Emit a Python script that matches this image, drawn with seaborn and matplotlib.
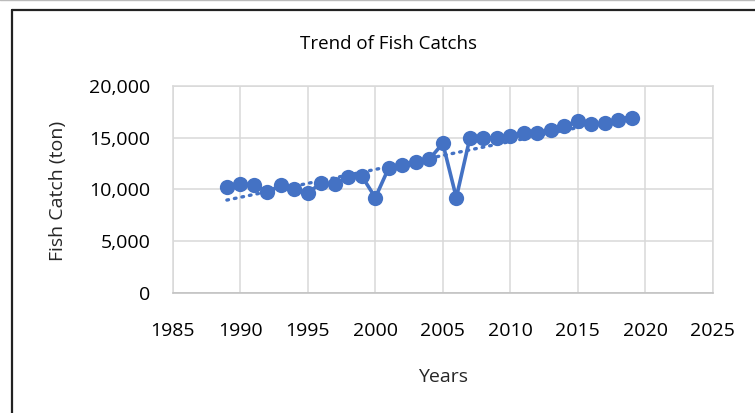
import numpy as np
import pandas as pd
import matplotlib
matplotlib.use("Agg")
import matplotlib.pyplot as plt
import seaborn as sns
from matplotlib.ticker import FuncFormatter
from matplotlib.lines import Line2D

# values
years = list(range(1989, 2020))
catch_ton = [10270, 10530, 10470, 9730, 10430, 10020, 9700, 10600, 10530, 11210,
             11300, 9210, 12110, 12370, 12690, 12920, 14460, 9210, 14940, 14940,
             15010, 15200, 15430, 15430, 15750, 16140, 16620, 16330, 16390, 16710,
             16870]
x_ticks = [1985, 1990, 1995, 2000, 2005, 2010, 2015, 2020, 2025]
y_ticks = [0, 5000, 10000, 15000, 20000]

BLUE = "#4472C4"
GRID = "#D9D9D9"


def setup_style():
    sns.set_style("white")
    plt.rcParams["font.family"] = ["Open Sans", "DejaVu Sans"]
    plt.rcParams["text.color"] = "#000000"


def main():
    setup_style()
    df = pd.DataFrame({"year": years, "catch": catch_ton})

    fig = plt.figure(figsize=(7.55, 4.13), dpi=100)
    ax = fig.add_axes([0.229, 0.2906, 0.715, 0.5012])

    # linear trendline (dotted), like the Excel one
    sns.regplot(data=df, x="year", y="catch", ax=ax, ci=None, scatter=False,
                line_kws=dict(color=BLUE, lw=2.4, linestyle=(0, (0.5, 1.8)),
                              dash_capstyle="round", zorder=2))
    sns.lineplot(data=df, x="year", y="catch", ax=ax, color=BLUE, lw=2.6,
                 marker="o", markersize=11, markeredgewidth=0, zorder=3)

    ax.set_xlim(x_ticks[0], x_ticks[-1])
    ax.set_ylim(y_ticks[0], y_ticks[-1])
    ax.set_xticks(x_ticks)
    ax.set_yticks(y_ticks)
    ax.yaxis.set_major_formatter(FuncFormatter(lambda v, p: f"{int(v):,}"))
    ax.grid(True, color=GRID, lw=1.1)
    ax.set_axisbelow(True)
    for name, sp in ax.spines.items():
        sp.set_visible(True)
        sp.set_color(GRID)
        sp.set_linewidth(1.1)
    ax.spines["bottom"].set_color("#BFBFBF")
    ax.tick_params(axis="both", length=0, labelsize=14, colors="#000000")
    ax.tick_params(axis="y", pad=16)
    ax.tick_params(axis="x", pad=21)

    ax.set_xlabel("Years", fontsize=14)
    ax.xaxis.label.set_va("center")
    ax.xaxis.set_label_coords(0.5, -0.405)
    ax.set_ylabel("Fish Catch (ton)", fontsize=14)
    ax.yaxis.label.set_va("center")
    ax.yaxis.set_label_coords(-0.213, 0.493)

    fig.text(0.514, 0.893, "Trend of Fish Catchs", ha="center", va="center",
             fontsize=13.5)

    # chart-area border (only top and left visible in the crop)
    fig.add_artist(Line2D([12 / 755, 1.0], [1 - 10 / 413, 1 - 10 / 413],
                          transform=fig.transFigure, color="#222222", lw=1.6))
    fig.add_artist(Line2D([12 / 755, 12 / 755], [0.0, 1 - 10 / 413],
                          transform=fig.transFigure, color="#222222", lw=1.6))
    fig.add_artist(Line2D([0.0, 1.0], [0.999, 0.999],
                          transform=fig.transFigure, color="#BBBBBB", lw=1.0))

    fig.savefig("out.png", dpi=100)
    plt.close(fig)


if __name__ == "__main__":
    main()
